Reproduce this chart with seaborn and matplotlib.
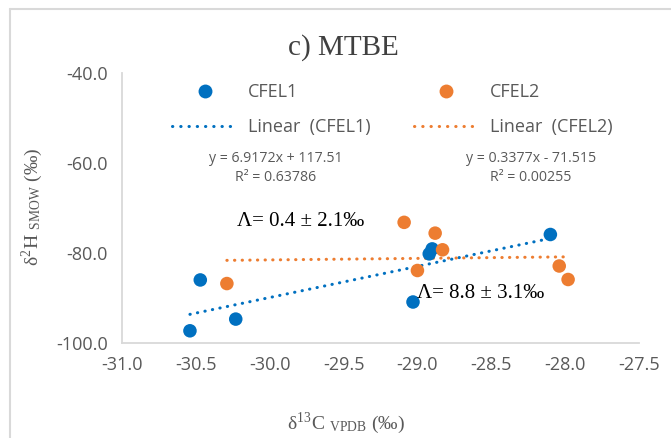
import numpy as np
import pandas as pd
import matplotlib
matplotlib.use("Agg")
import matplotlib.pyplot as plt
import seaborn as sns
from matplotlib.lines import Line2D

# --- data -------------------------------------------------------------
cfel1_c13 = [-30.54, -30.47, -30.23, -29.03, -28.90, -28.92, -28.10]
cfel1_h2 = [-97.4, -86.1, -94.8, -91.0, -79.2, -80.3, -76.0]

cfel2_c13 = [-30.29, -29.09, -28.88, -28.83, -29.00, -28.04, -27.98]
cfel2_h2 = [-86.9, -73.3, -75.7, -79.4, -84.0, -83.0, -86.0]

series_names = ["CFEL1", "CFEL2"]
trend_slope = [6.9172, 0.3377]
trend_intercept = [117.51, -71.515]
trend_eq_text = ["y = 6.9172x + 117.51", "y = 0.3377x - 71.515"]
trend_r2_text = ["R² = 0.63786", "R² = 0.00255"]
lambda_text = ["Λ= 0.4 ± 2.1‰", "Λ= 8.8 ± 3.1‰"]

x_ticks = [-31.0, -30.5, -30.0, -29.5, -29.0, -28.5, -28.0, -27.5]
y_ticks = [-100.0, -80.0, -60.0, -40.0]

colors = {"CFEL1": "#0070C0", "CFEL2": "#ED7D31"}

# --- frame ------------------------------------------------------------
sns.set_theme(style="white")
plt.rcParams["mathtext.fontset"] = "stix"
SANS = ["Open Sans", "DejaVu Sans"]
SERIF = ["Liberation Serif", "DejaVu Serif"]
TXT = "#595959"

W, H = 671, 438
fig = plt.figure(figsize=(W / 100, H / 100), dpi=100)
fig.patch.set_facecolor("white")

# chart-area border (left and top edges show)
fig.add_artist(Line2D([10 / W, 10 / W], [0, 1 - 9 / H], color="#D9D9D9", lw=1.5))
fig.add_artist(Line2D([10 / W, 1], [1 - 9 / H, 1 - 9 / H], color="#D9D9D9", lw=1.5))

ax = fig.add_axes([122 / W, 1 - 342.5 / H, (639 - 122) / W, (342.5 - 72.5) / H])

df = pd.DataFrame({
    "c13": cfel1_c13 + cfel2_c13,
    "h2": cfel1_h2 + cfel2_h2,
    "series": [series_names[0]] * len(cfel1_c13) + [series_names[1]] * len(cfel2_c13),
})

# linear trendlines from the fitted coefficients, spanning each series' x-range
trend_rows = []
for name, xs, m, b in zip(series_names, [cfel1_c13, cfel2_c13], trend_slope, trend_intercept):
    for xv in (min(xs), max(xs)):
        trend_rows.append({"c13": xv, "h2": m * xv + b, "series": "Linear  (" + name + ")"})
trend = pd.DataFrame(trend_rows)

dot = (0, (0.1, 2.4))
LW = 2.2
for name in series_names:
    sub = trend[trend["series"] == "Linear  (" + name + ")"]
    sns.lineplot(data=sub, x="c13", y="h2", ax=ax, color=colors[name], lw=LW,
                 linestyle=dot, dash_capstyle="round", zorder=2, legend=False)

sns.scatterplot(data=df, x="c13", y="h2", hue="series", palette=colors, ax=ax,
                s=95, edgecolor="none", linewidth=0, zorder=3, legend=False)

ax.set_xlim(-31.0, -27.5)
ax.set_ylim(-100.0, -40.0)
ax.set_xticks(x_ticks)
ax.set_yticks(y_ticks)
ax.set_xticklabels([f"{v:.1f}" for v in x_ticks], fontfamily=SANS, fontsize=13, color=TXT)
ax.set_yticklabels([f"{v:.1f}" for v in y_ticks], fontfamily=SANS, fontsize=13, color=TXT)
ax.tick_params(axis="both", length=0, pad=10)
ax.set_xlabel("")
ax.set_ylabel("")
for side in ("top", "right"):
    ax.spines[side].set_visible(False)
for side in ("left", "bottom"):
    ax.spines[side].set_color("#D9D9D9")
    ax.spines[side].set_linewidth(1.3)
ax.set_facecolor("white")
ax.patch.set_alpha(0)

# legend: markers on the first row, dotted trendlines on the second
handles = [
    Line2D([], [], ls="none", marker="o", ms=10, color=colors["CFEL1"], mec="none"),
    Line2D([], [], color=colors["CFEL1"], lw=LW, ls=(0, (0.1, 2.6)), dash_capstyle="round"),
    Line2D([], [], ls="none", marker="o", ms=10, color=colors["CFEL2"], mec="none"),
    Line2D([], [], color=colors["CFEL2"], lw=LW, ls=(0, (0.1, 2.6)), dash_capstyle="round"),
]
labels = ["CFEL1", "Linear  (CFEL1)", "CFEL2", "Linear  (CFEL2)"]
leg = fig.legend(handles, labels, ncol=2, loc="upper left",
                 bbox_to_anchor=(172 / W, 1 - 83 / H), frameon=False,
                 prop={"family": SANS, "size": 13}, handlelength=3.6,
                 handletextpad=0.6, columnspacing=2.4, labelspacing=0.95,
                 borderaxespad=0, borderpad=0)
for t in leg.get_texts():
    t.set_color(TXT)

# regression equations
for cx, eq, r2 in zip([276, 531], trend_eq_text, trend_r2_text):
    fig.text(cx / W, 1 - 159 / H, eq, ha="center", va="center",
             fontfamily=SANS, fontsize=10.2, color=TXT)
    fig.text(cx / W, 1 - 178 / H, r2, ha="center", va="center",
             fontfamily=SANS, fontsize=10.2, color=TXT)

# Λ annotations
for lx, ly, s in zip([237, 417], [222, 293], lambda_text):
    fig.text(lx / W, 1 - ly / H, s, ha="left", va="center",
             fontfamily=SERIF, fontsize=15, color="black")

# title and axis titles
fig.text(343 / W, 1 - 48 / H, "c) MTBE", ha="center", va="center",
         fontfamily=SERIF, fontsize=21, color="#404040")
fig.text(346 / W, 1 - 423 / H, r"δ$^{\mathregular{13}}$C $_{\mathregular{VPDB}}$ (‰)",
         ha="center", va="center", fontfamily=SERIF, fontsize=14, color=TXT)
fig.text(32 / W, 1 - 207 / H, r"δ$^{\mathregular{2}}$H $_{\mathregular{SMOW}}$ (‰)",
         ha="center", va="center", rotation=90, fontfamily=SERIF, fontsize=14, color=TXT)

fig.savefig("out.png", dpi=100, facecolor="white")
